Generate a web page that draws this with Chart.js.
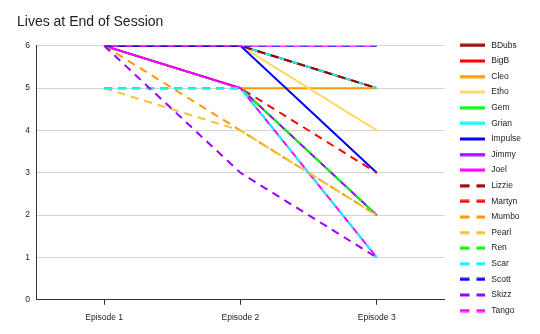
<!DOCTYPE html>
<html>
<head>
<meta charset="utf-8">
<script src="https://cdn.jsdelivr.net/npm/chart.js@4/dist/chart.umd.min.js"></script>
<style>
  body { margin: 0; background: #fff; }
  #wrap { width: 540px; height: 334px; }
</style>
</head>
<body>
<div id="wrap"><canvas id="chart"></canvas></div>
<script>
var episodes = ['Episode 1', 'Episode 2', 'Episode 3'];
var players = ['BDubs', 'BigB', 'Cleo', 'Etho', 'Gem', 'Grian', 'Impulse', 'Jimmy', 'Joel',
               'Lizzie', 'Martyn', 'Mumbo', 'Pearl', 'Ren', 'Scar', 'Scott', 'Skizz', 'Tango'];

// lives left after each episode
var bdubs   = [6, 6, 5];
var bigb    = [6, 6, 5];
var cleo    = [6, 5, 5];
var etho    = [6, 6, 4];
var gem     = [6, 5, 2];
var grian   = [6, 6, 5];
var impulse = [6, 6, 3];
var jimmy   = [6, 5, 2];
var joel    = [6, 5, 1];
var lizzie  = [6, 6, 5];
var martyn  = [5, 5, 3];
var mumbo   = [6, 4, 2];
var pearl   = [5, 4, 2];
var ren     = [5, 5, 2];
var scar    = [5, 5, 1];
var scott   = [6, 6, 6];
var skizz   = [6, 3, 1];
var tango   = [6, 6, 6];

var lives = [bdubs, bigb, cleo, etho, gem, grian, impulse, jimmy, joel,
             lizzie, martyn, mumbo, pearl, ren, scar, scott, skizz, tango];

var colors = ['#990000', '#ff0000', '#ff9900', '#ffd966', '#00ff00', '#00ffff', '#0000ff', '#9900ff', '#ff00ff',
              '#990000', '#ff0000', '#ff9900', '#f1c232', '#00ff00', '#00ffff', '#0000ff', '#9900ff', '#ff00ff'];

var fontFamily = "'Liberation Sans', Arial, sans-serif";

// little line swatch for the legend (solid or dashed)
function swatch(color, dashed) {
    var c = document.createElement('canvas');
    c.width = 25;
    c.height = 4;
    var g = c.getContext('2d');
    g.fillStyle = color;
    if (dashed) {
        g.fillRect(0, 0.5, 9, 3);
        g.fillRect(16, 0.5, 9, 3);
    } else {
        g.fillRect(0, 0.5, 25, 3);
    }
    return c;
}

// move the legend so it lines up like the sheet export
var legendNudge = {
    id: 'legendNudge',
    afterLayout: function (chart) {
        var l = chart.legend;
        l.left += 7; l.right += 7;
        l.top += 34; l.bottom += 34;
    }
};

var ctx = document.getElementById('chart').getContext('2d');
var chart = new Chart(ctx, {
    type: 'line',
    data: {
        labels: episodes,
        datasets: players.map(function (name, i) {
            return {
                label: name,
                data: lives[i],
                borderColor: colors[i],
                backgroundColor: colors[i],
                borderWidth: 2,
                borderDash: i >= 9 ? [8, 6] : [],
                borderDashOffset: name === 'Tango' ? 7 : 0,
                pointRadius: 0,
                pointHoverRadius: 0,
                tension: 0,
                fill: false,
                order: -i   // later series drawn on top
            };
        })
    },
    options: {
        responsive: true,
        maintainAspectRatio: false,
        animation: false,
        layout: {
            padding: { left: 17, right: 16, bottom: 3 }
        },
        plugins: {
            title: {
                display: true,
                text: 'Lives at End of Session',
                align: 'start',
                color: '#222',
                font: { family: fontFamily, size: 14, weight: 'normal' },
                padding: { top: 14, bottom: 15 }
            },
            legend: {
                position: 'right',
                align: 'start',
                labels: {
                    color: '#222',
                    font: { family: fontFamily, size: 8.5 },
                    usePointStyle: true,
                    pointStyleWidth: 28,
                    padding: 7.1,
                    sort: function (a, b) { return a.datasetIndex - b.datasetIndex; },
                    generateLabels: function (chart) {
                        var items = Chart.defaults.plugins.legend.labels.generateLabels(chart);
                        items.forEach(function (it) {
                            it.pointStyle = swatch(colors[it.datasetIndex], it.datasetIndex >= 9);
                        });
                        return items;
                    }
                }
            },
            tooltip: { enabled: false }
        },
        scales: {
            x: {
                offset: true,
                grid: {
                    drawOnChartArea: false,
                    drawTicks: true,
                    tickLength: 5,
                    offset: false,
                    color: '#333'
                },
                border: { color: '#333' },
                ticks: {
                    color: '#222',
                    padding: 8,
                    font: { family: fontFamily, size: 8.5 }
                }
            },
            y: {
                min: 0,
                max: 6,
                afterFit: function (scale) { scale.width = 19; },
                grid: { color: '#d4d4d4', drawTicks: false },
                border: { color: '#333' },
                ticks: {
                    stepSize: 1,
                    color: '#222',
                    padding: 6,
                    font: { family: fontFamily, size: 8.5 }
                }
            }
        }
    },
    plugins: [legendNudge]
});
</script>
</body>
</html>
